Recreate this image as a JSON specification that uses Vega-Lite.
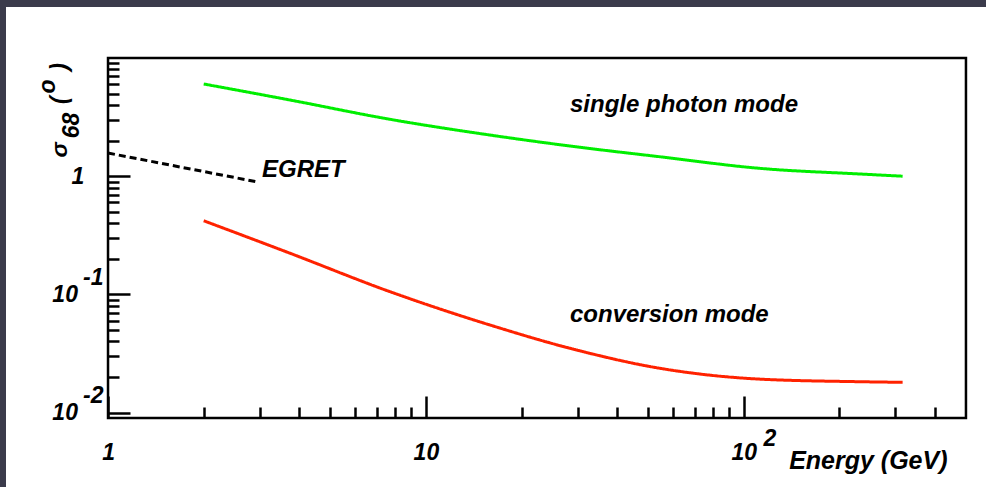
{
  "$schema": "https://vega.github.io/schema/vega-lite/v6.json",
  "width": 980,
  "height": 480,
  "autosize": {"type": "none"},
  "padding": {"left": 6, "top": 7, "right": 0, "bottom": 0},
  "background": "#3b3b4b",
  "config": {
    "view": {"fill": "white", "stroke": null},
    "font": "Liberation Sans"
  },
  "datasets": {
    "curves": [
      {"mode": "single photon mode", "E": 2, "sigma": 6.03},
      {"mode": "single photon mode", "E": 3.74, "sigma": 4.41},
      {"mode": "single photon mode", "E": 7.71, "sigma": 3.03},
      {"mode": "single photon mode", "E": 15.9, "sigma": 2.23},
      {"mode": "single photon mode", "E": 28.4, "sigma": 1.8},
      {"mode": "single photon mode", "E": 54.5, "sigma": 1.46},
      {"mode": "single photon mode", "E": 112, "sigma": 1.166},
      {"mode": "single photon mode", "E": 232, "sigma": 1.044},
      {"mode": "single photon mode", "E": 316, "sigma": 1.0},
      {"mode": "conversion mode", "E": 2, "sigma": 0.42},
      {"mode": "conversion mode", "E": 3.74, "sigma": 0.2228},
      {"mode": "conversion mode", "E": 7.71, "sigma": 0.1054},
      {"mode": "conversion mode", "E": 15.9, "sigma": 0.0551},
      {"mode": "conversion mode", "E": 28.4, "sigma": 0.035},
      {"mode": "conversion mode", "E": 54.5, "sigma": 0.0237},
      {"mode": "conversion mode", "E": 112, "sigma": 0.0192},
      {"mode": "conversion mode", "E": 232, "sigma": 0.01825},
      {"mode": "conversion mode", "E": 316, "sigma": 0.01804},
      {"mode": "EGRET", "E": 1, "sigma": 1.57},
      {"mode": "EGRET", "E": 2.96, "sigma": 0.893}
    ],
    "notes": [
      {"label": "single photon mode", "E": 28.4, "sigma": 3.49},
      {"label": "conversion mode", "E": 28.4, "sigma": 0.0584},
      {"label": "EGRET", "E": 3.05, "sigma": 0.99}
    ]
  },
  "layer": [
    {
      "data": {"name": "curves"},
      "mark": {"type": "line", "strokeWidth": 3, "interpolate": "monotone"},
      "encoding": {
        "x": {
          "field": "E",
          "type": "quantitative",
          "scale": {"type": "log", "domain": [0.4776, 578.1], "nice": false},
          "axis": {
            "orient": "bottom",
            "offset": -69,
            "domain": false,
            "grid": false,
            "values": [1, 2, 3, 4, 5, 6, 7, 8, 9, 10, 20, 30, 40, 50, 60, 70, 80, 90, 100, 200, 300, 400],
            "tickColor": "black",
            "tickWidth": 2.5,
            "tickSize": {"condition": {"test": "abs(log(datum.value)/LN10 - round(log(datum.value)/LN10)) < 0.001", "value": -22}, "value": -11},
            "labelExpr": "abs(log(datum.value)/LN10 - round(log(datum.value)/LN10)) > 0.001 ? '' : datum.value < 5 ? ['', '1'] : datum.value < 50 ? ['', '10'] : ['\u200b\u00a0\u00a0\u00a0\u00a0\u00a0\u00a0\u00a0\u00a02', '10']",
            "labelFont": "Liberation Sans",
            "labelFontSize": 23,
            "labelFontWeight": "bold",
            "labelFontStyle": "italic",
            "labelColor": "black",
            "labelAlign": "center",
            "labelBaseline": "top",
            "labelPadding": 31,
            "labelLineHeight": 14,
            "labelOverlap": false,
            "labelFlush": false,
            "labelBound": false,
            "title": "Energy (GeV)",
            "titleX": 941,
            "titleY": 50,
            "titleAlign": "right",
            "titleBaseline": "alphabetic",
            "titleFont": "Liberation Sans",
            "titleFontSize": 25,
            "titleFontWeight": "bold",
            "titleFontStyle": "italic",
            "titleColor": "black"
          }
        },
        "y": {
          "field": "sigma",
          "type": "quantitative",
          "scale": {"type": "log", "domain": [0.002347, 27.01], "nice": false},
          "axis": {
            "orient": "left",
            "offset": -102,
            "domain": false,
            "grid": false,
            "values": [0.01, 0.02, 0.03, 0.04, 0.05, 0.06, 0.07, 0.08, 0.09, 0.1, 0.2, 0.3, 0.4, 0.5, 0.6, 0.7, 0.8, 0.9, 1, 2, 3, 4, 5, 6, 7, 8, 9],
            "tickColor": "black",
            "tickWidth": 2.5,
            "tickSize": {"condition": {"test": "abs(log(datum.value)/LN10 - round(log(datum.value)/LN10)) < 0.001", "value": -22}, "value": -11},
            "labelExpr": "abs(log(datum.value)/LN10 - round(log(datum.value)/LN10)) > 0.001 ? '' : datum.value > 0.5 ? '1\u00a0\u00a0\u00a0\u200b' : datum.value > 0.05 ? ['-1', '10\u00a0\u00a0\u00a0\u00a0\u200b'] : ['-2', '10\u00a0\u00a0\u00a0\u00a0\u200b']",
            "labelOffset": {"condition": {"test": "datum.value < 0.5", "value": -17}, "value": 0},
            "labelFont": "Liberation Sans",
            "labelFontSize": 23,
            "labelFontWeight": "bold",
            "labelFontStyle": "italic",
            "labelColor": "black",
            "labelAlign": "right",
            "labelBaseline": "middle",
            "labelPadding": 27,
            "labelLineHeight": 17,
            "labelOverlap": false,
            "labelFlush": false,
            "labelBound": false,
            "title": ["\u200b\u00a0\u00a0\u00a0\u00a0\u00a0\u00a0\u00a0\u00a0\u00a0\u00a0o", "σ\u00a0\u00a0\u00a0\u00a0\u00a0\u00a0(\u00a0\u00a0\u00a0\u00a0)", "\u200b\u00a0\u00a0\u00a068"],
            "titleX": -61,
            "titleY": 150,
            "titleAngle": 270,
            "titleAlign": "left",
            "titleBaseline": "middle",
            "titleLineHeight": 12,
            "titleFont": "Liberation Sans",
            "titleFontSize": 23,
            "titleFontWeight": "bold",
            "titleFontStyle": "italic",
            "titleColor": "black"
          }
        },
        "color": {
          "field": "mode",
          "type": "nominal",
          "scale": {"domain": ["single photon mode", "conversion mode", "EGRET"], "range": ["#00ee00", "#ff2200", "black"]},
          "legend": null
        },
        "strokeDash": {
          "field": "mode",
          "type": "nominal",
          "scale": {"domain": ["single photon mode", "conversion mode", "EGRET"], "range": [[1, 0], [1, 0], [7, 4]]},
          "legend": null
        }
      }
    },
    {
      "data": {"name": "notes"},
      "mark": {
        "type": "text",
        "align": "left",
        "baseline": "alphabetic",
        "font": "Liberation Sans",
        "fontSize": 24,
        "fontWeight": "bold",
        "fontStyle": "italic",
        "color": "black"
      },
      "encoding": {
        "x": {"field": "E", "type": "quantitative"},
        "y": {"field": "sigma", "type": "quantitative"},
        "text": {"field": "label", "type": "nominal"}
      }
    },
    {
      "data": {"values": [{"edge": "frame"}]},
      "mark": {"type": "rect", "fill": "transparent", "stroke": "black", "strokeWidth": 2.5},
      "encoding": {
        "x": {"datum": 1, "type": "quantitative"},
        "x2": {"datum": 500},
        "y": {"datum": 0.009, "type": "quantitative"},
        "y2": {"datum": 10}
      }
    }
  ]
}
